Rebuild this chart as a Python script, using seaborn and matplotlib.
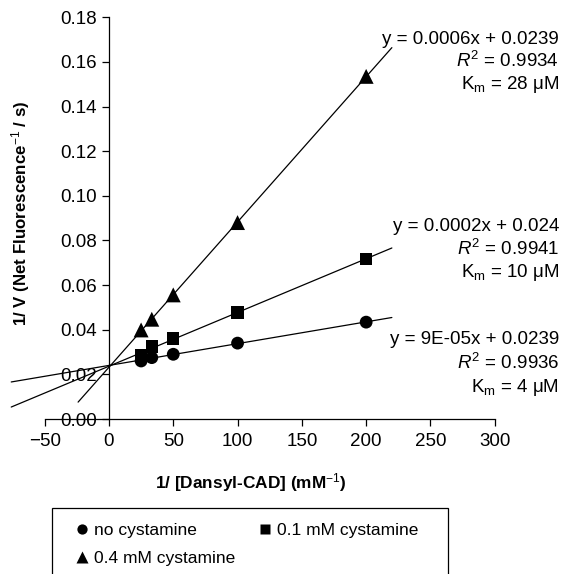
import matplotlib

matplotlib.use("Agg")
import matplotlib.pyplot as plt
import numpy as np
import pandas as pd
import seaborn as sns
from matplotlib.patches import Rectangle

# 1/[S] values (mM^-1) and 1/V for each cystamine condition
inv_substrate = [25, 33.3, 50, 100, 200]
inv_v_none = [0.0260, 0.0275, 0.0290, 0.0340, 0.0434]
inv_v_01 = [0.0287, 0.0324, 0.0360, 0.0478, 0.0717]
inv_v_04 = [0.0399, 0.0447, 0.0556, 0.0880, 0.1535]

series_names = ["no cystamine", "0.1 mM cystamine", "0.4 mM cystamine"]
equations = ["y = 9E-05x + 0.0239", "y = 0.0002x + 0.024", "y = 0.0006x + 0.0239"]
r_squared = ["0.9936", "0.9941", "0.9934"]
km_values = ["4", "10", "28"]

sns.set_theme(style="ticks")
plt.rcParams["font.family"] = ["Liberation Sans", "DejaVu Sans"]
plt.rcParams["text.color"] = "black"
plt.rcParams["mathtext.fontset"] = "custom"
plt.rcParams["mathtext.rm"] = "Liberation Sans"
plt.rcParams["mathtext.it"] = "Liberation Sans:italic"
plt.rcParams["mathtext.bf"] = "Liberation Sans:bold"

df = pd.DataFrame({
    "x": inv_substrate * 3,
    "y": inv_v_none + inv_v_01 + inv_v_04,
    "condition": np.repeat(series_names, len(inv_substrate)),
})

fig = plt.figure(figsize=(5.64, 5.74), dpi=100)
ax = fig.add_axes([0.0108, 0.270, 0.912, 0.700])

markers = {series_names[0]: "o", series_names[1]: "s", series_names[2]: "^"}
palette = {name: "black" for name in series_names}
sizes = {series_names[0]: 85, series_names[1]: 80, series_names[2]: 115}

# trend lines (least squares), drawn over a forecast range
fit_ranges = [(-76, 220), (-76, 220), (-24, 220)]
for ys, (x0, x1) in zip([inv_v_none, inv_v_01, inv_v_04], fit_ranges):
    slope, intercept = np.polyfit(inv_substrate, ys, 1)
    xs = np.array([x0, x1])
    ax.plot(xs, slope * xs + intercept, color="black", lw=0.9, zorder=1)

sns.scatterplot(data=df, x="x", y="y", hue="condition", style="condition",
                size="condition", sizes=sizes, markers=markers, palette=palette,
                edgecolor="none", ax=ax, zorder=3)

ax.set_xlim(-80, 320)
ax.set_ylim(0, 0.18)
ax.set_xticks(np.arange(-50, 301, 50))
ax.set_yticks(np.arange(0, 0.181, 0.02))
ax.yaxis.set_major_formatter(matplotlib.ticker.FormatStrFormatter("%.2f"))
ax.spines["left"].set_position(("data", 0))
ax.spines["left"].set_bounds(0, 0.18)
ax.spines["bottom"].set_bounds(-50, 300)
ax.spines["top"].set_visible(False)
ax.spines["right"].set_visible(False)
for side in ["left", "bottom"]:
    ax.spines[side].set_linewidth(0.9)
    ax.spines[side].set_color("black")
ax.tick_params(axis="both", labelsize=13.5, length=5, width=0.9, colors="black")
ax.tick_params(axis="x", pad=5)
ax.set_xlabel("")
ax.set_ylabel("")

fig.text(0.445, 0.159, r"1/ [Dansyl-CAD] (mM$^{-1}$)", ha="center", va="center",
         fontsize=12.4, fontweight="bold")
fig.text(0.036, 0.628, r"1/ V (Net Fluorescence$^{-1}$ / s)", ha="center", va="center",
         rotation=90, fontsize=12.2, fontweight="bold")

# equation labels, right aligned
label_y = [(0.0354, 0.0251, 0.0143), (0.0861, 0.0762, 0.0655), (0.1700, 0.1606, 0.1497)]
for eq, r2, km, ys in zip(equations, r_squared, km_values, label_y):
    ax.text(350, ys[0], eq, ha="right", va="center", fontsize=13.5)
    ax.text(350, ys[1], r"$R^2$ = " + r2, ha="right", va="center", fontsize=13.5)
    ax.text(350, ys[2], r"K$_\mathregular{m}$ = " + km + " μM", ha="right", va="center",
            fontsize=13.5)

handles, labels = ax.get_legend_handles_labels()
ax.get_legend().remove()
# row-wise order: matplotlib fills legend columns first
order = [0, 2, 1]
leg = fig.legend([handles[i] for i in order], [labels[i] for i in order], ncol=2,
                 loc="upper left", bbox_to_anchor=(0.121, 0.104), fontsize=12.5,
                 frameon=False, markerscale=0.8, handlelength=0.6,
                 handletextpad=0.4, columnspacing=1.4, borderpad=0,
                 labelspacing=0.72)
fig.patches.append(Rectangle((0.092, -0.05), 0.702, 0.165, transform=fig.transFigure,
                             fill=False, edgecolor="black", lw=0.9))

fig.savefig("out.png", dpi=100)
